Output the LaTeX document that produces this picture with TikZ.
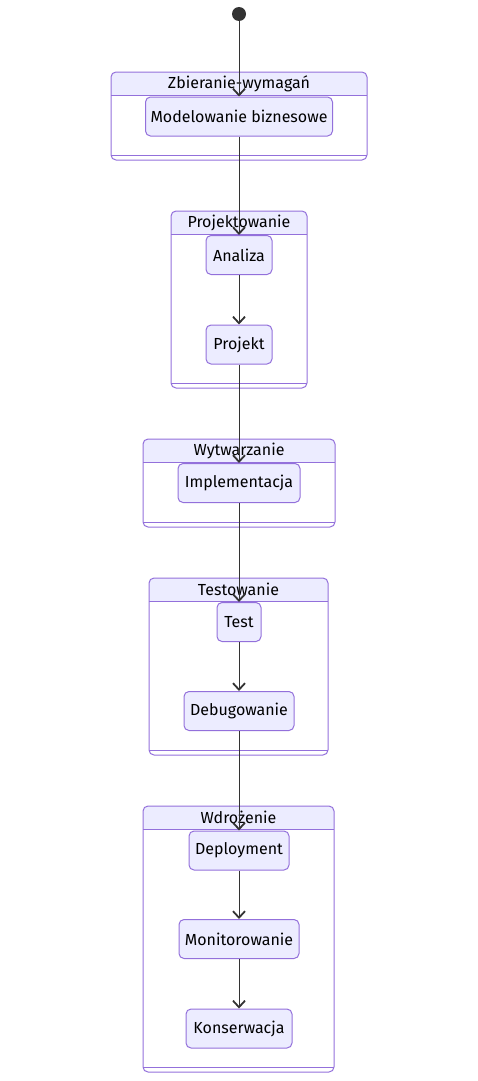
\documentclass[tikz,border=0pt]{standalone}
\usepackage{fontspec}
\setmainfont{Fira Sans}
\usetikzlibrary{arrows.meta}
\usetikzlibrary{positioning}
\definecolor{purp}{HTML}{9370DB}
\definecolor{lav}{HTML}{ECECFF}
\definecolor{edge}{HTML}{333333}

\begin{document}
\begin{tikzpicture}[x=1pt, y=-1pt, line width=1pt]
 	  \tikzstyle{state}=[draw=purp, fill=lav, rounded corners=5pt, inner sep=0pt, minimum height=39pt, font=\fontsize{16}{19}\selectfont]
 	  \tikzstyle{trans}=[draw=edge, -{Straight Barb[length=6.5pt,width=12pt,line width=1.8pt]}]
\useasboundingbox (0,0) rectangle (478,1081);
% clusters
\foreach \l/\r/\t/\b/\c/\title in {111/367/72/160/zb/Zbieranie-wymagań, 171/307/211/388/pr/Projektowanie, 143/335/439/527/wy/Wytwarzanie, 149/328/578/755/te/Testowanie, 143/334/806/1072/wd/Wdrożenie}{
    \fill[lav, rounded corners=5pt] (\l,\t+23) |- (\r,\t) [sharp corners] -- (\r,\t+23) -- cycle;
    \draw[purp, rounded corners=5pt] (\l,\t) rectangle (\r,\b);
    \draw[purp] (\l,\t+23) -- (\r,\t+23);
    \draw[purp] (\l,\b-5) -- (\r,\b-5);
    \node[font=\fontsize{16}{19}\selectfont] (\c) at ({(\l+\r)/2},\t+11.5) {\title};
      }
% states
    \node[circle, fill=edge, inner sep=0pt, minimum size=14pt] (start) at (239,14) {};
    \node[state, minimum width=187pt] (model) at (239,116.5) {Modelowanie biznesowe};
    \node[state, minimum width=66pt] (analiza) at (239,255) {Analiza};
    \node[state, minimum width=66pt] (projekt) at (239,344.5) {Projekt};
    \node[state, minimum width=122pt] (impl) at (239,483) {Implementacja};
    \node[state, minimum width=44pt] (test) at (239,622) {Test};
    \node[state, minimum width=110pt] (debug) at (239,711) {Debugowanie};
    \node[state, minimum width=100pt] (deploy) at (239,850.5) {Deployment};
    \node[state, minimum width=120pt] (monitor) at (239,939) {Monitorowanie};
    \node[state, minimum width=106pt] (konserw) at (239,1028.5) {Konserwacja};
% transitions
\foreach \a/\b in {start/model, model/analiza, analiza/projekt, projekt/impl, impl/test, test/debug, debug/deploy, deploy/monitor, monitor/konserw}{
         \draw[trans] (\a) -- (\b);
      }
   \end{tikzpicture}
\end{document}
